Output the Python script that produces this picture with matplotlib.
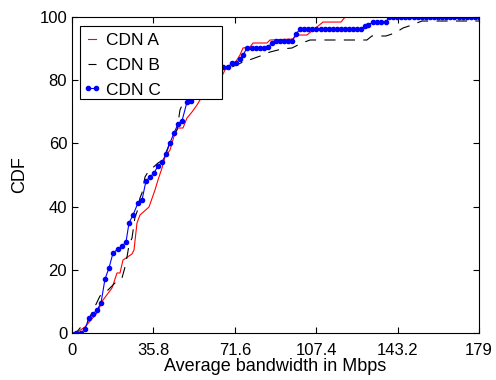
import matplotlib
matplotlib.use("Agg")
from matplotlib import pyplot as plt
from matplotlib.patches import Rectangle

plt.rcParams['font.family'] = ['Liberation Sans', 'DejaVu Sans']
plt.rcParams['lines.scale_dashes'] = False

# CDN A (red)
a_x = [0, 1.76, 5.72, 10.99, 13.63, 17.59, 19.79, 21.11, 22.43, 26.39, 27.26,
       28.58, 29.9, 33.86, 36.5, 37.82, 39.58, 40.9, 43.1, 45.29, 46.61, 48.81,
       50.57, 52.77, 54.97, 56.29, 60.7, 65.52, 67.28, 69.48, 71.68, 73.88,
       75.2, 78.28, 79.6, 85.75, 87.07, 97.19, 98.94, 103.3, 110.4, 118.3,
       120.1, 179.0]
a_y = [0, 0, 1.9, 6.33, 10.44, 14.24, 18.99, 18.99, 23.1, 25.0, 26.27,
       34.81, 37.34, 39.87, 45.25, 48.42, 52.22, 55.7, 57.9, 63.29, 64.87, 64.87,
       68.04, 69.94, 72.15, 73.73, 77.5, 80.7, 83.23, 84.18, 85.44, 87.97,
       90.19, 90.51, 91.77, 91.77, 92.72, 93.04, 94.3, 94.3, 98.4, 98.4,
       100, 100]

# CDN B (black dashed)
b_x = [0, 1.76, 3.52, 6.6, 12.31, 14.51, 19.79, 21.99, 23.31, 24.19, 25.07,
       26.39, 27.7, 28.58, 29.9, 30.78, 32.1, 33.42, 37.82, 40.02, 44.41,
       46.17, 47.49, 48.81, 54.1, 60.7, 65.96, 70.36, 75.2, 79.16, 84.0, 87.07,
       92.35, 96.75, 101.1, 104.7, 129.7, 131.9, 138.1, 142.0, 145.6, 149.5,
       153.9, 179.0]
b_y = [0, 0, 1.58, 3.16, 11.71, 12.66, 16.46, 17.41, 20.89, 24.05, 27.85,
       30.06, 36.71, 38.29, 42.72, 44.3, 49.37, 50.95, 53.8, 54.75, 62.66,
       64.24, 70.57, 72.78, 76.3, 80.7, 83.86, 84.18, 85.76, 86.71, 87.97, 88.92,
       89.87, 90.19, 91.77, 92.72, 92.72, 93.99, 93.99, 94.94, 96.52, 97.47,
       98.73, 98.73]

# CDN C (blue with markers)
c_x = [1.76, 3.96, 5.72, 7.48, 9.23, 10.99, 12.75, 14.51, 16.27, 18.03, 20.23,
       21.99, 23.75, 25.07, 26.82, 29.02, 30.78, 32.54, 34.3, 36.06, 37.82,
       39.58, 41.34, 43.1, 44.85, 46.61, 48.37, 50.57, 52.33, 56.3, 58.5, 60.7,
       62.9, 64.6, 66.4, 68.6, 70.36, 72.12, 73.88, 75.2, 76.96, 79.16, 80.91,
       82.67, 84.43, 86.19, 87.95, 89.71, 91.47, 93.23, 94.99, 96.75, 98.5,
       100.3, 102.1, 103.9, 105.7, 107.5, 109.3, 111.1, 112.9, 114.7, 116.5,
       118.3, 120.1, 121.9, 123.7, 125.5, 127.3, 128.8, 130.2, 132.4, 134.1,
       135.9, 138.1, 139.4, 141.2, 143.0, 144.8, 146.6, 148.4, 150.2, 152.0,
       153.8, 155.6, 157.4, 159.2, 161.0, 162.8, 164.6, 166.4, 168.2, 170.0,
       171.8, 173.6, 175.4, 177.2, 179.0]
c_y = [0, 0, 1.27, 4.75, 6.01, 7.28, 9.49, 17.09, 20.57, 25.32, 26.58,
       27.53, 28.8, 34.81, 37.34, 41.14, 42.09, 48.1, 49.37, 50.63, 52.85,
       54.11, 56.65, 60.13, 63.29, 66.14, 67.09, 73.1, 73.42, 78.5, 80.1, 81.3,
       82.6, 83.9, 84.18, 84.18, 85.44, 85.44, 86.71, 87.97, 90.19, 90.19, 90.19,
       90.19, 90.19, 90.51, 91.77, 92.41, 92.41, 92.41, 92.41, 92.41, 94.62,
       96.2, 96.2, 96.2, 96.2, 96.2, 96.2, 96.2, 96.2, 96.2, 96.2,
       96.2, 96.2, 96.2, 96.2, 96.2, 96.2, 97.15, 97.47, 98.42, 98.42,
       98.42, 98.42, 100, 100, 100, 100, 100, 100, 100, 100,
       100, 100, 100, 100, 100, 100, 100, 100, 100, 100,
       100, 100, 100, 100, 100]

x_ticks = [0, 35.8, 71.6, 107.4, 143.2, 179]
x_tick_labels = ["0", "35.8", "71.6", "107.4", "143.2", "179"]
y_ticks = [0, 20, 40, 60, 80, 100]

W, H = 496, 380
ax_l, ax_b, ax_w, ax_h = 72, 47, 407, 316

fig = plt.figure(figsize=(W / 100, H / 100), dpi=100)
ax = fig.add_axes([ax_l / W, ax_b / H, ax_w / W, ax_h / H])

ax.plot(a_x, a_y, color='red', linewidth=0.8, label='CDN A')
ax.plot(b_x, b_y, color='black', linewidth=0.8, dashes=(8, 6), label='CDN B')
ax.plot(c_x, c_y, color='blue', linewidth=0.8, marker='o', markersize=3,
        label='CDN C')

ax.set_xlim(0, 179)
ax.set_ylim(0, 100)
ax.set_xticks(x_ticks)
ax.set_xticklabels(x_tick_labels)
ax.set_yticks(y_ticks)
ax.tick_params(direction='in', top=True, right=True, length=4, width=0.8,
               labelsize=12)
ax.tick_params(axis='x', pad=7)
ax.set_xlabel("Average bandwidth in Mbps", fontsize=13, labelpad=0)
ax.set_ylabel("CDF", fontsize=13, labelpad=8)
for s in ax.spines.values():
    s.set_linewidth(0.8)

# legend box drawn by hand (MATLAB style, wide right padding)
box = Rectangle(((80 - ax_l) / ax_w, (333 - 99) / ax_h), 142 / ax_w, 73 / ax_h,
                transform=ax.transAxes, facecolor='white', edgecolor='black',
                linewidth=0.8, zorder=4)
ax.add_patch(box)
leg = ax.legend(loc='upper left',
                bbox_to_anchor=((83 - ax_l) / ax_w, (333 - 33) / ax_h),
                fontsize=12.5, frameon=False, borderaxespad=0, borderpad=0,
                handlelength=1.05, handletextpad=0.25, labelspacing=0.55,
                numpoints=2)
leg.set_zorder(5)

fig.savefig("out.png", dpi=100)
